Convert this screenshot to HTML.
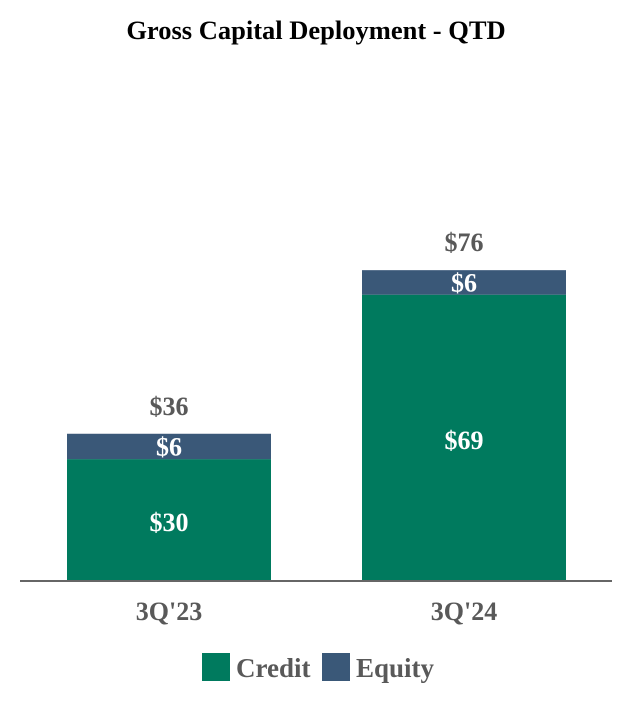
<!DOCTYPE html>
<html><head><meta charset="utf-8"><style>
body{margin:0;background:#fff;}
svg text{font-family:"Liberation Serif",serif;font-weight:bold;}
</style></head><body>
<svg width="632" height="700" viewBox="0 0 632 700">
<text x="316" y="39" text-anchor="middle" font-size="26.5" fill="#000">Gross Capital Deployment - QTD</text>
<g id="bars"></g>
<line x1="20" y1="581" x2="612" y2="581" stroke="#666" stroke-width="2"/>
<rect x="202" y="653" width="28" height="28" fill="#007A5E"/>
<text x="236" y="677" font-size="27" fill="#595959">Credit</text>
<rect x="322" y="653" width="28" height="28" fill="#3A5878"/>
<text x="356" y="677" font-size="27" fill="#595959">Equity</text>
</svg>
<script>
const categories=["3Q'23","3Q'24"];
const credit=[29.8,70.0];
const equity=[6.2,6.0];
const creditLabels=["$30","$69"];
const equityLabels=["$6","$6"];
const totalLabels=["$36","$76"];
const NS="http://www.w3.org/2000/svg";
const g=document.getElementById('bars');
const base=581, ppu=4.09;
const y=v=>base-v*ppu;
const xs=[67,362], bw=204;
function mk(tag,attrs,txt){const e=document.createElementNS(NS,tag);for(const k in attrs)e.setAttribute(k,attrs[k]);if(txt!==undefined)e.textContent=txt;g.appendChild(e);return e;}
categories.forEach((c,i)=>{
  const x=xs[i];
  const yc=y(credit[i]), yt=y(credit[i]+equity[i]);
  let r=mk('rect',{x:x,y:yc,width:bw,height:base-yc,fill:'#007A5E'});
  
  
  r=mk('rect',{x:x,y:yt,width:bw,height:yc-yt,fill:'#3A5878'});
  
  
  const cx=x+bw/2;
  let t=mk('text',{x:cx,y:(yc+base)/2+11,'text-anchor':'middle','font-size':26,fill:'#fff'},creditLabels[i]);
  
  
  t=mk('text',{x:cx,y:(yt+yc)/2+9,'text-anchor':'middle','font-size':26,fill:'#fff'},equityLabels[i]);
  
  
  t=mk('text',{x:cx,y:yt-19,'text-anchor':'middle','font-size':26,fill:'#595959'},totalLabels[i]);
  
  
  t=mk('text',{x:cx,y:620,'text-anchor':'middle','font-size':26,fill:'#595959'},c);
  
  
});
</script>
</body></html>
